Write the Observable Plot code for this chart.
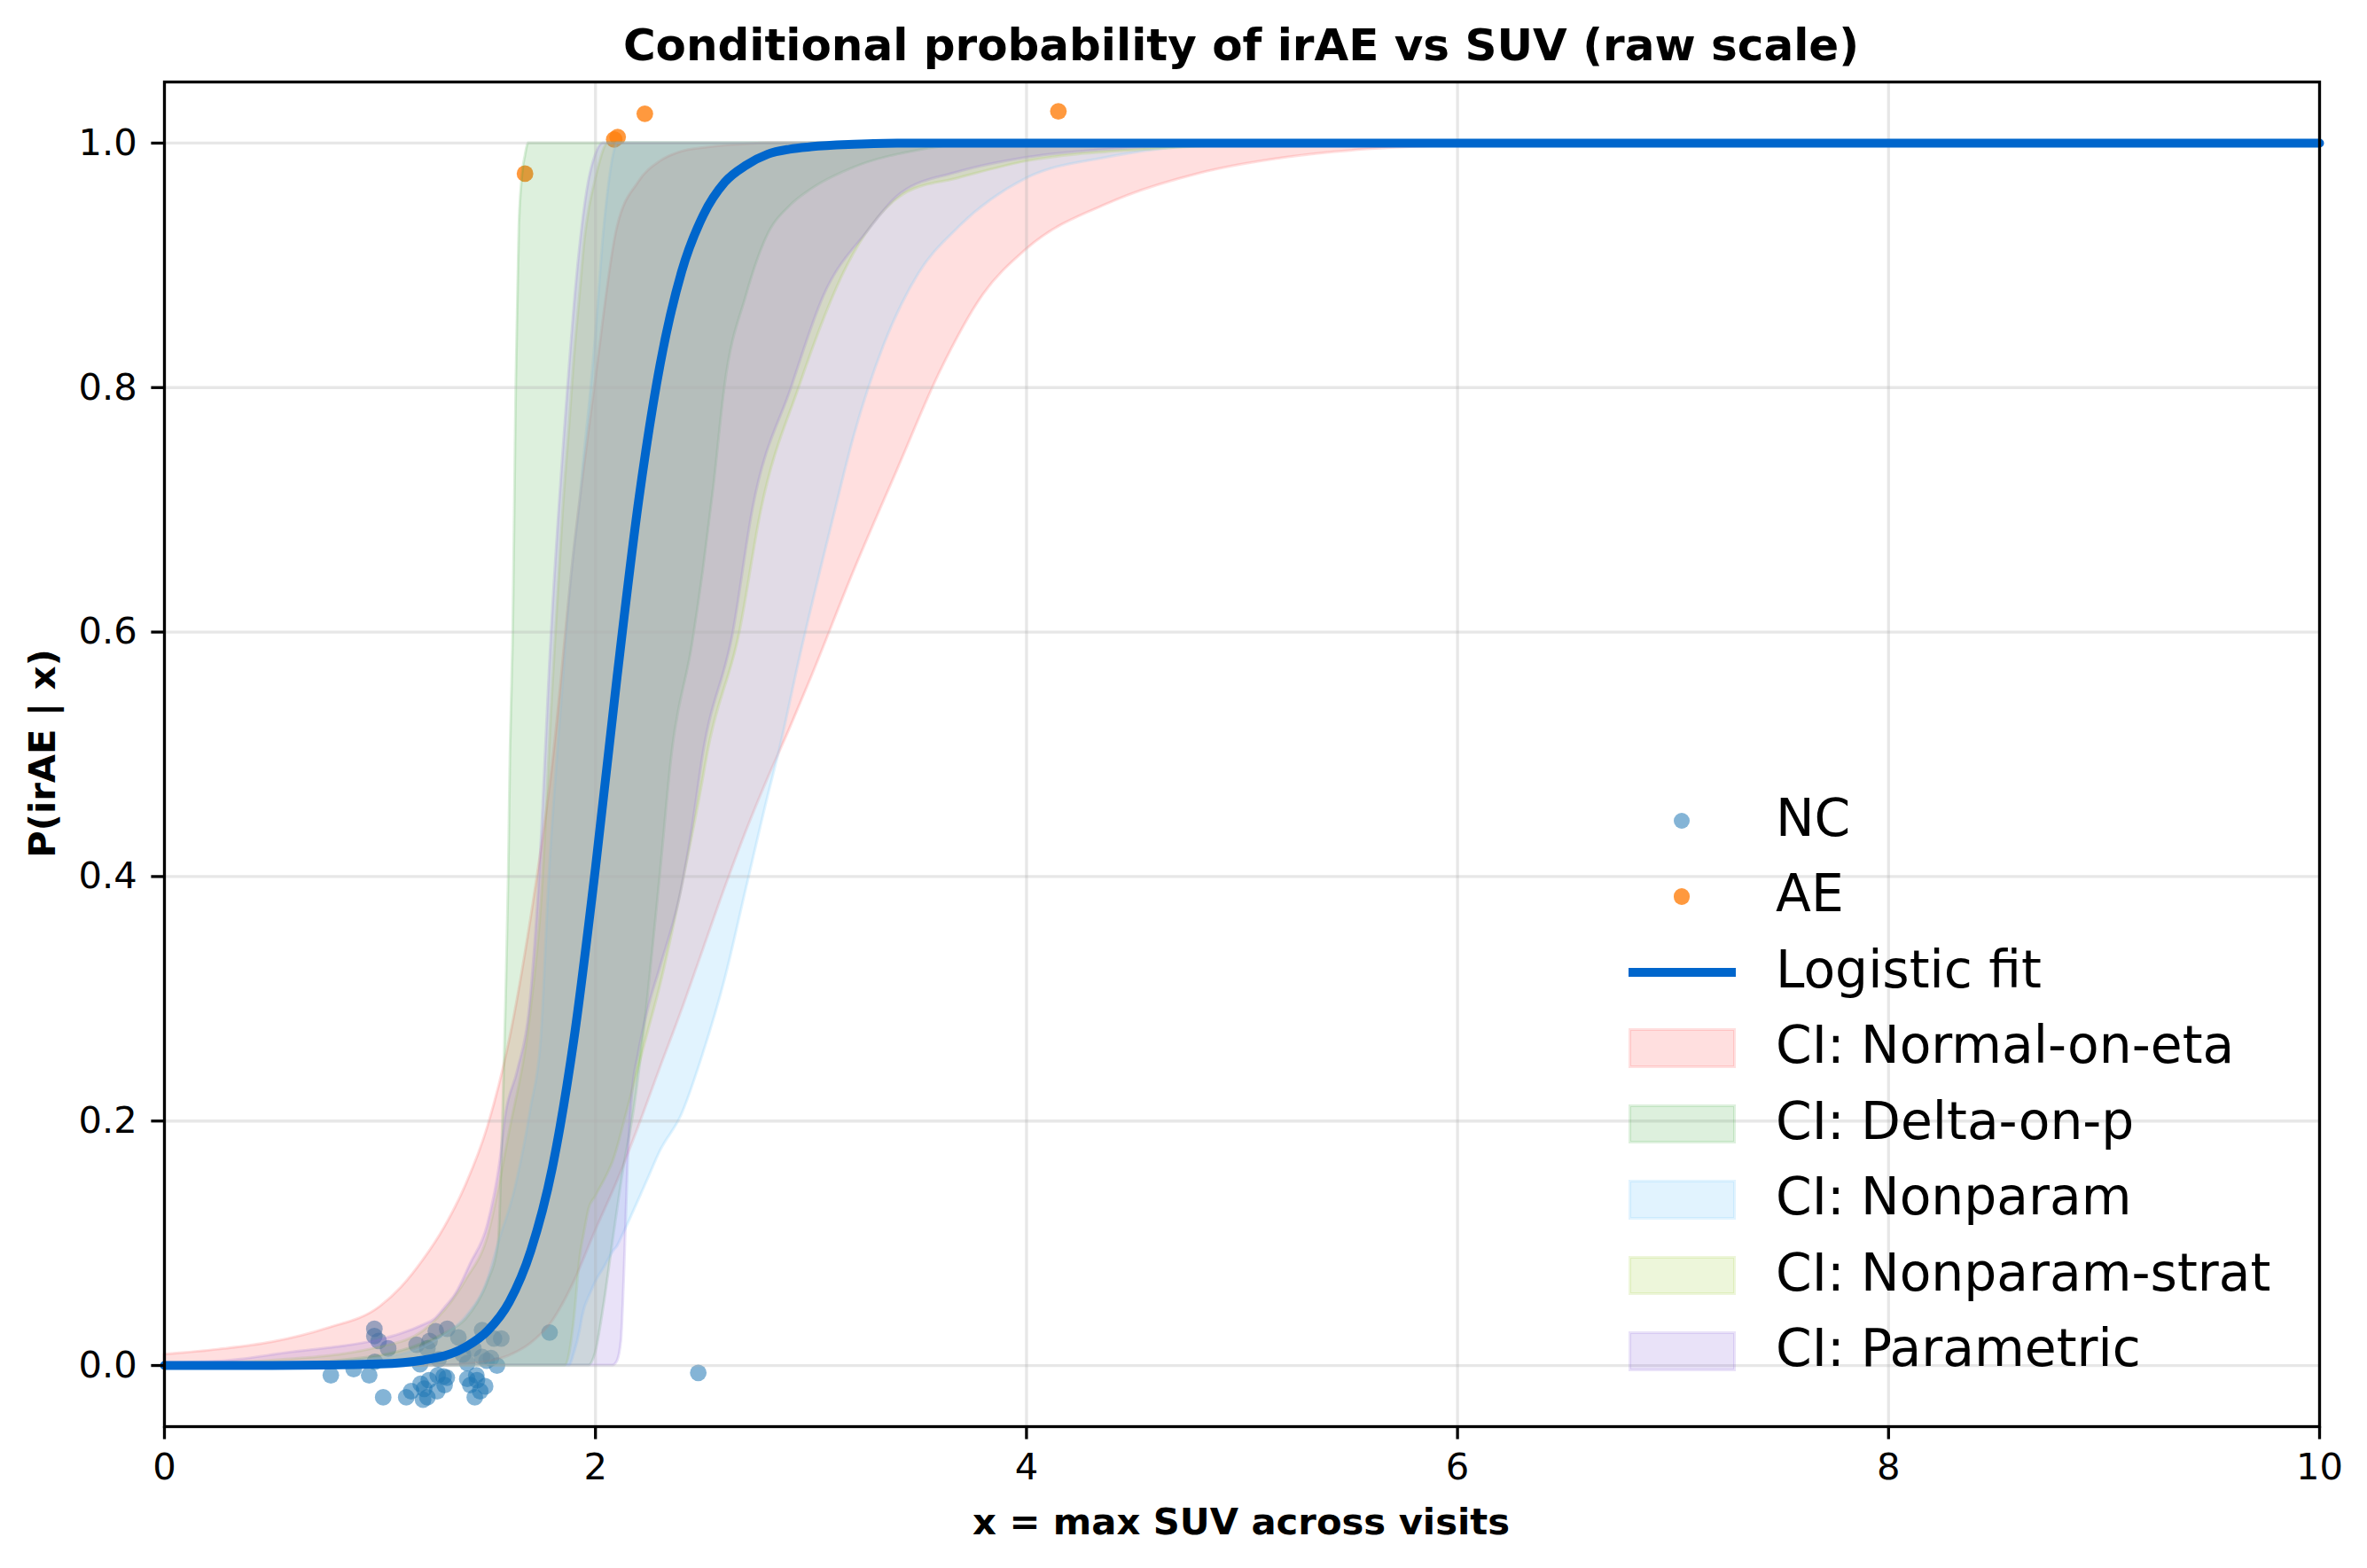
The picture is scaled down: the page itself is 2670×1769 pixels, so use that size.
<!DOCTYPE html>
<html><head><meta charset="utf-8">
<script src="https://cdn.jsdelivr.net/npm/d3@7"></script>
<script src="https://cdn.jsdelivr.net/npm/@observablehq/plot@0.6"></script>
<style>
body{margin:0;background:#fff;}
#wrap{position:relative;width:2670px;height:1769px;font-family:"DejaVu Sans",sans-serif;overflow:hidden;background:#fff;}
.abs{position:absolute;white-space:nowrap;line-height:1;color:#000;}
</style></head><body><div id="wrap"></div>
<script>
// ---------- data ----------
const titleText = "Conditional probability of irAE vs SUV (raw scale)";
const xLabel = "x = max SUV across visits";
const yLabel = "P(irAE | x)";
const xTicks = [0, 2, 4, 6, 8, 10];
const yTicks = [0, 0.2, 0.4, 0.6, 0.8, 1.0];
const legendLabels = ["NC", "AE", "Logistic fit", "CI: Normal-on-eta", "CI: Delta-on-p", "CI: Nonparam", "CI: Nonparam-strat", "CI: Parametric"];

const ncX = [0.772, 0.878, 0.950, 0.974, 0.974, 0.994, 1.038, 0.976, 1.015, 1.122, 1.145, 1.200, 1.220, 1.189, 1.227, 1.268, 1.295, 1.310, 1.300, 1.265, 1.186, 1.170, 1.230, 1.259, 1.312, 1.272, 1.220, 1.364, 1.385, 1.405, 1.433, 1.474, 1.529, 1.563, 1.474, 1.515, 1.543, 1.495, 1.405, 1.447, 1.419, 1.450, 1.488, 1.440, 1.465, 1.787, 2.477, 1.205];
const ncY = [-0.008, -0.003, -0.008, 0.030, 0.024, 0.020, 0.014, 0.003, -0.026, -0.026, -0.021, -0.028, -0.026, -0.015, -0.012, -0.008, -0.009, -0.010, -0.016, -0.021, 0.001, 0.017, 0.020, 0.028, 0.030, 0.005, 0.014, 0.023, 0.009, 0.002, 0.014, 0.029, 0.022, 0.022, 0.007, 0.006, 0.000, 0.004, -0.011, -0.008, -0.016, -0.012, -0.017, -0.026, -0.021, 0.027, -0.006, -0.019];
const aeX = [1.673, 2.087, 2.103, 2.229, 4.148];
const aeY = [0.975, 1.003, 1.005, 1.024, 1.026];

const fitX = [0, 0.5, 1.0, 1.2, 1.4, 1.5, 1.6, 1.7, 1.8, 1.9, 2.0, 2.1, 2.2, 2.3, 2.4, 2.5, 2.6, 2.7, 2.8, 2.9, 3.0, 3.2, 3.4, 3.6, 4.0, 10];
const fitY = [0, 0.0001, 0.0013, 0.0044, 0.0154, 0.0285, 0.052, 0.094, 0.162, 0.267, 0.407, 0.563, 0.707, 0.819, 0.895, 0.941, 0.968, 0.982, 0.991, 0.995, 0.997, 0.999, 1.0, 1.0, 1.0, 1.0];

const normalX = [0, 0.25, 0.5, 0.75, 1.0, 1.1, 1.2, 1.3, 1.4, 1.5, 1.6, 1.7, 1.8, 1.9, 2.0, 2.1, 2.2, 2.3, 2.4, 2.5, 2.6, 2.7, 2.8, 2.9, 3.0, 3.2, 3.4, 3.6, 3.8, 4.0, 4.4, 4.8, 5.2, 5.6, 6.0, 7.0, 8.0, 10.0];
const normalHi = [0.009, 0.013, 0.019, 0.030, 0.048, 0.064, 0.086, 0.113, 0.148, 0.195, 0.265, 0.365, 0.490, 0.665, 0.805, 0.930, 0.968, 0.985, 0.993, 0.996, 0.998, 0.999, 1, 1, 1, 1, 1, 1, 1, 1, 1, 1, 1, 1, 1, 1, 1, 1];
const normalLo = [0, 0, 0, 0, 0, 0, 0, 0, 0.001, 0.003, 0.008, 0.018, 0.036, 0.068, 0.110, 0.150, 0.195, 0.243, 0.290, 0.340, 0.390, 0.437, 0.480, 0.520, 0.562, 0.650, 0.732, 0.813, 0.876, 0.913, 0.952, 0.975, 0.988, 0.995, 0.998, 1, 1, 1];

const deltaX = [0, 0.5, 1.0, 1.2, 1.3, 1.4, 1.45, 1.5, 1.55, 1.57, 1.585, 1.597, 1.605, 1.618, 1.632, 1.646, 1.659, 1.675, 1.69, 1.97, 2.0, 2.04, 2.08, 2.13, 2.18, 2.245, 2.3, 2.355, 2.45, 2.5, 2.55, 2.6, 2.7, 2.8, 2.9, 3.0, 3.2, 3.5, 3.8, 10];
const deltaHi = [0, 0.001, 0.008, 0.018, 0.026, 0.038, 0.05, 0.068, 0.10, 0.2, 0.3, 0.4, 0.5, 0.6, 0.8, 0.929, 0.97, 0.99, 1, 1, 1, 1, 1, 1, 1, 1, 1, 1, 1, 1, 1, 1, 1, 1, 1, 1, 1, 1, 1, 1];
const deltaLo = [0, 0, 0, 0, 0, 0, 0, 0, 0, 0, 0, 0, 0, 0, 0, 0, 0, 0, 0, 0, 0.01, 0.05, 0.10, 0.16, 0.21, 0.304, 0.40, 0.50, 0.59, 0.65, 0.72, 0.80, 0.875, 0.925, 0.948, 0.962, 0.98, 0.994, 1, 1];

const npX = [0, 0.5, 1.0, 1.2, 1.3, 1.4, 1.5, 1.55, 1.625, 1.7, 1.748, 1.783, 1.85, 1.88, 1.9, 1.93, 1.94, 1.98, 2.0, 2.04, 2.09, 2.1, 2.12, 2.2, 2.25, 2.3, 2.4, 2.5, 2.6, 2.7, 2.8, 2.85, 2.95, 3.1, 3.2, 3.34, 3.5, 3.68, 4.0, 4.37, 4.63, 5.0, 5.5, 10];
const npHi = [0, 0.0005, 0.006, 0.015, 0.025, 0.04, 0.07, 0.1, 0.143, 0.21, 0.267, 0.392, 0.56, 0.63, 0.665, 0.71, 0.73, 0.80, 0.84, 0.93, 0.995, 1, 1, 1, 1, 1, 1, 1, 1, 1, 1, 1, 1, 1, 1, 1, 1, 1, 1, 1, 1, 1, 1, 1];
const npLo = [0, 0, 0, 0, 0, 0, 0, 0, 0, 0, 0, 0, 0, 0, 0.009, 0.03, 0.04, 0.06, 0.068, 0.08, 0.095, 0.097, 0.104, 0.135, 0.155, 0.175, 0.205, 0.255, 0.315, 0.39, 0.465, 0.5, 0.58, 0.69, 0.76, 0.835, 0.893, 0.930, 0.971, 0.988, 0.995, 0.999, 1, 1];

const stX = [0, 0.5, 1.0, 1.2, 1.4, 1.5, 1.6, 1.7, 1.75, 1.8, 1.85, 1.86, 1.88, 1.9, 1.93, 1.95, 1.97, 2.0, 2.06, 2.08, 2.15, 2.24, 2.3, 2.4, 2.5, 2.52, 2.67, 2.77, 2.945, 3.17, 3.45, 3.68, 4.0, 4.6, 5.3, 10];
const stHi = [0.001, 0.004, 0.015, 0.028, 0.07, 0.105, 0.19, 0.29, 0.38, 0.55, 0.70, 0.725, 0.77, 0.82, 0.88, 0.92, 0.945, 0.97, 1, 1, 1, 1, 1, 1, 1, 1, 1, 1, 1, 1, 1, 1, 1, 1, 1, 1];
const stLo = [0, 0, 0, 0, 0, 0, 0, 0, 0, 0, 0, 0, 0.01, 0.035, 0.09, 0.11, 0.128, 0.138, 0.158, 0.166, 0.21, 0.27, 0.31, 0.39, 0.48, 0.5, 0.6, 0.7, 0.8, 0.9, 0.96, 0.971, 0.985, 0.995, 1, 1];

const paX = [0, 0.3, 0.6, 0.8, 1.0, 1.1, 1.2, 1.255, 1.3, 1.35, 1.42, 1.5, 1.556, 1.584, 1.639, 1.693, 1.735, 1.796, 1.872, 1.913, 1.968, 2.0, 2.036, 2.08, 2.10, 2.12, 2.135, 2.15, 2.17, 2.2, 2.25, 2.3, 2.4, 2.45, 2.5, 2.64, 2.73, 2.91, 3.06, 3.26, 3.42, 3.68, 4.0, 4.5, 5.0, 5.5, 10];
const paHi = [0.002, 0.004, 0.011, 0.015, 0.021, 0.026, 0.033, 0.038, 0.047, 0.058, 0.083, 0.115, 0.165, 0.205, 0.241, 0.29, 0.385, 0.6, 0.8, 0.889, 0.968, 0.99, 1, 1, 1, 1, 1, 1, 1, 1, 1, 1, 1, 1, 1, 1, 1, 1, 1, 1, 1, 1, 1, 1, 1, 1, 1];
const paLo = [0, 0, 0, 0, 0, 0, 0, 0, 0, 0, 0, 0, 0, 0, 0, 0, 0, 0, 0, 0, 0, 0, 0, 0, 0.003, 0.02, 0.08, 0.16, 0.22, 0.255, 0.295, 0.325, 0.39, 0.44, 0.5, 0.6, 0.7, 0.8, 0.875, 0.927, 0.959, 0.976, 0.988, 0.996, 0.999, 1, 1];

// ---------- build ----------
const pts = (xs, ys) => xs.map((x, i) => ({x, y: ys[i]}));
const band = (xs, lo, hi) => xs.map((x, i) => ({x, lo: lo[i], hi: hi[i]}));
const nc = pts(ncX, ncY), ae = pts(aeX, aeY), fit = pts(fitX, fitY);
const bands = [
  {color: "#ff4d4d", op: 0.18, data: band(normalX, normalLo, normalHi)},
  {color: "#2ca02c", op: 0.16, data: band(deltaX, deltaLo, deltaHi)},
  {color: "#87cefa", op: 0.25, data: band(npX, npLo, npHi)},
  {color: "#9acd32", op: 0.18, data: band(stX, stLo, stHi)},
  {color: "#9370db", op: 0.20, data: band(paX, paLo, paHi)}
];
const ncColor = "#1f77b4", ncOp = 0.55, aeColor = "#ff7f0e", aeOp = 0.8, fitColor = "#0066cc";

const W = 2670, H = 1769;
const chart = Plot.plot({
  width: W, height: H,
  marginLeft: 185, marginRight: 54, marginTop: 92, marginBottom: 160,
  x: {domain: [0, 10]},
  y: {domain: [-0.05, 1.05]},
  style: {fontFamily: "DejaVu Sans", fontSize: "41.7px", background: "white", color: "black"},
  marks: [
    Plot.dot(nc, {x: "x", y: "y", r: 9.4, fill: ncColor, fillOpacity: ncOp, stroke: null}),
    Plot.dot(ae, {x: "x", y: "y", r: 9.4, fill: aeColor, fillOpacity: aeOp, stroke: null}),
    ...bands.map(b => Plot.areaY(b.data, {x: "x", y1: "lo", y2: "hi", curve: "monotone-x",
      fill: b.color, fillOpacity: b.op, stroke: b.color, strokeOpacity: b.op, strokeWidth: 3})),
    Plot.gridX(xTicks, {stroke: "#b0b0b0", strokeOpacity: 0.3, strokeWidth: 3.3}),
    Plot.gridY(yTicks, {stroke: "#b0b0b0", strokeOpacity: 0.3, strokeWidth: 3.3}),
    Plot.line(fit, {x: "x", y: "y", curve: "monotone-x", stroke: fitColor, strokeWidth: 10}),
    Plot.axisX(xTicks, {tickSize: 14.6, tickPadding: 15, strokeWidth: 3.3, label: null, fontSize: 41.7, tickFormat: d3.format("d")}),
    Plot.axisY(yTicks, {tickSize: 14.6, tickPadding: 16, strokeWidth: 3.3, label: null, fontSize: 41.7, tickFormat: d3.format(".1f")}),
    Plot.frame({stroke: "black", strokeWidth: 3.3})
  ]
});
const wrap = document.getElementById("wrap");
chart.style.position = "absolute"; chart.style.left = "0px"; chart.style.top = "0px";
wrap.appendChild(chart);

function addText(txt, css) {
  const d = document.createElement("div");
  d.className = "abs"; d.textContent = txt;
  Object.assign(d.style, css);
  wrap.appendChild(d);
  return d;
}
addText(titleText, {left: "1400px", top: "25.7px", fontSize: "50px", fontWeight: "bold", transform: "translateX(-50%)"});
addText(xLabel, {left: "1400px", top: "1695.7px", fontSize: "41.7px", fontWeight: "bold", transform: "translateX(-50%)"});
addText(yLabel, {left: "48px", top: "850px", fontSize: "41.7px", fontWeight: "bold", transform: "translate(-50%,-50%) rotate(-90deg)"});

// legend (no frame)
const rgba = (c, o) => { const k = d3.color(c); k.opacity = o; return k.formatRgb(); };
legendLabels.forEach((lab, i) => {
  const cy = 926 + 85.5 * i;
  const h = document.createElement("div");
  h.style.position = "absolute";
  if (i < 2) {
    const col = i === 0 ? rgba(ncColor, ncOp) : rgba(aeColor, aeOp);
    Object.assign(h.style, {left: (1897 - 9.4) + "px", top: (cy - 9.4) + "px", width: "18.8px", height: "18.8px", borderRadius: "50%", background: col});
  } else if (i === 2) {
    Object.assign(h.style, {left: "1837px", top: (cy - 5) + "px", width: "121px", height: "10px", background: fitColor});
  } else {
    const b = bands[i - 3];
    Object.assign(h.style, {left: "1839px", top: (cy - 20.3) + "px", width: "116.7px", height: "40.6px",
      background: rgba(b.color, b.op), outline: "3px solid " + rgba(b.color, b.op), outlineOffset: "-1.5px"});
  }
  wrap.appendChild(h);
  addText(lab, {left: "2003px", top: (943 + 85.5 * i - 49.3) + "px", fontSize: "58.3px"});
});
</script></body></html>
